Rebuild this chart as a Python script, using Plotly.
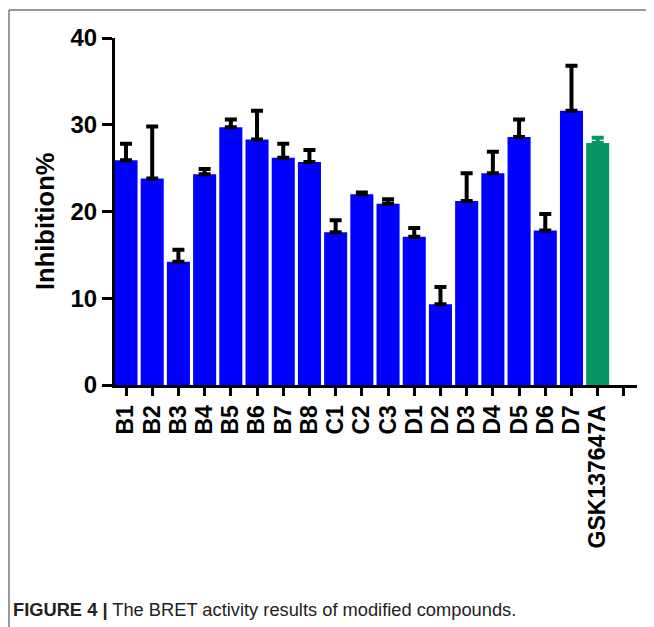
import plotly.graph_objects as go

categories = ["B1", "B2", "B3", "B4", "B5", "B6", "B7", "B8", "C1", "C2", "C3",
              "D1", "D2", "D3", "D4", "D5", "D6", "D7", "GSK137647A", ""]
compound_values = [25.9, 23.8, 14.2, 24.3, 29.7, 28.3, 26.2, 25.7, 17.6, 22.0, 20.9,
                   17.1, 9.3, 21.2, 24.4, 28.6, 17.8, 31.6]
compound_errors = [1.9, 6.0, 1.4, 0.6, 0.9, 3.3, 1.6, 1.4, 1.4, 0.2, 0.5,
                   1.0, 2.0, 3.2, 2.5, 2.0, 1.9, 5.2]
reference_value = [27.9]
reference_error = [0.6]
y_ticks = [0, 10, 20, 30, 40]

# page has an 8px body margin; work in screen coords and subtract it
OFF = 8
W, H = 654 - OFF, 627 - OFF
L, R, T, B = 115 - OFF, 17, 38 - OFF, 242
pw, ph = W - L - R, H - T - B

def px(x):
    return (x - OFF - L) / pw

def py(y):
    return 1 - (y - OFF - T) / ph

n_comp = len(compound_values)
fig = go.Figure()
fig.add_trace(go.Bar(
    x=list(range(n_comp)), y=compound_values, width=0.88,
    marker=dict(color="#0000FF", line=dict(width=0)),
    error_y=dict(type="data", array=compound_errors, arrayminus=[0] * n_comp,
                 symmetric=False, color="black", thickness=4, width=6),
    showlegend=False,
))
fig.add_trace(go.Bar(
    x=[n_comp], y=reference_value, width=0.88,
    marker=dict(color="#079563", line=dict(width=0)),
    error_y=dict(type="data", array=reference_error, arrayminus=[0],
                 symmetric=False, color="#079563", thickness=4, width=6),
    showlegend=False,
))

fig.update_layout(
    width=W, height=H,
    margin=dict(l=L, r=R, t=T, b=B, autoexpand=False),
    paper_bgcolor="white", plot_bgcolor="white",
    barmode="overlay",
    font=dict(family="Liberation Sans, Arial, sans-serif", color="black"),
)
fig.update_xaxes(
    range=[-0.42, 19.5], tickmode="array",
    tickvals=list(range(len(categories))), ticktext=categories,
    tickangle=-90, showgrid=False, zeroline=False,
    showline=True, linecolor="black", linewidth=3,
    ticks="outside", ticklen=8, tickwidth=3, tickcolor="black",
    tickfont=dict(size=23, weight="bold", family="Liberation Sans, Arial"),
)
fig.update_yaxes(
    range=[0, 40], tickmode="array", tickvals=y_ticks,
    showgrid=False, zeroline=False,
    showline=True, linecolor="black", linewidth=3,
    ticks="outside", ticklen=10, tickwidth=3, tickcolor="black",
    tickfont=dict(size=24, weight="bold", family="Liberation Sans, Arial"),
)

# y-axis title
fig.add_annotation(
    x=px(45), y=py(222), xref="paper", yref="paper",
    text="<b>Inhibition%</b>", textangle=-90, showarrow=False,
    font=dict(size=25.5, family="Liberation Sans, Arial"),
    xanchor="center", yanchor="middle",
)
# caption
fig.add_annotation(
    x=px(11), y=py(609), xref="paper", yref="paper",
    text="<b>FIGURE 4 |</b> The BRET activity results of modified compounds.",
    showarrow=False, xanchor="left", yanchor="middle",
    font=dict(size=18.3, family="Liberation Sans, Arial", color="#222"),
)
# figure frame (top and left lines)
fig.add_shape(type="line", xref="paper", yref="paper",
              x0=px(9), y0=py(10), x1=px(660), y1=py(10),
              line=dict(color="#777", width=1.5))
fig.add_shape(type="line", xref="paper", yref="paper",
              x0=px(9), y0=py(10), x1=px(9), y1=py(640),
              line=dict(color="#777", width=1.5))

fig.write_html("out.html")
